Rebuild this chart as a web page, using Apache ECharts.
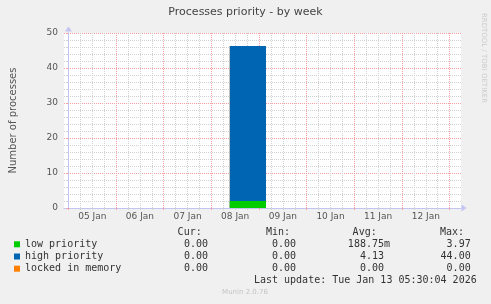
<!DOCTYPE html>
<html>
<head>
<meta charset="utf-8">
<script src="https://cdn.jsdelivr.net/npm/echarts@6/dist/echarts.min.js"></script>
<style>
html,body{margin:0;padding:0;background:#f0f0f0;}
#chart{width:491px;height:304px;}
</style>
</head>
<body>
<div id="chart"></div>
<script>
// ---- data (x = hours since 05 Jan 00:00) ----
const xMin = -2.25;
const xMax = 197.75;
const sampleHours = [-2.25, 81.25, 99.5, 197.75];
const lowPriority = [0, 2.0, 0, 0];
const highPriority = [0, 44.3, 0, 0];
const lockedInMemory = [0, 0, 0, 0];
const dayLabels = ['05 Jan','06 Jan','07 Jan','08 Jan','09 Jan','10 Jan','11 Jan','12 Jan'];
const seriesNames = ['low priority','high priority','locked in memory'];
const seriesColors = ['#00cc00','#0066b3','#ff8000'];
const curVals = ['0.00 ','0.00 ','0.00 '];
const minVals = ['0.00 ','0.00 ','0.00 '];
const avgVals = ['188.75m','4.13 ','0.00 '];
const maxVals = ['3.97 ','44.00 ','0.00 '];
const lastUpdate = 'Last update: Tue Jan 13 05:30:04 2026';

const midnights = [], noons = [], sixHours = [];
for (let h = 0; h <= xMax; h += 6) sixHours.push(h);
for (let h = 0; h <= xMax; h += 24) midnights.push(h);
for (let i = 0; i < dayLabels.length; i++) noons.push(12 + 24 * i);

// stacked tops (AREA + STACK as in rrdtool)
const rawSeries = [lowPriority, highPriority, lockedInMemory];
const stackTops = [];
rawSeries.forEach((vals, si) => {
  stackTops.push(vals.map((v, i) => v + (si > 0 ? stackTops[si-1][i] : 0)));
});
function pairs(vals){ return sampleHours.map((h,i)=>[h, vals[i]]); }

const chart = echarts.init(document.getElementById('chart'), null, {renderer:'canvas'});
const mono = 'DejaVu Sans Mono';
const sans = 'DejaVu Sans';
const red = '#f2a0a0';
const gray = '#d2d2d2';
const axisCol = '#c4c4f2';

const graphics = [];
const colX = [214, 302, 390, 476.7];
const hdr = [['Cur:',201.7],['Min:',290],['Avg:',376.7],['Max:',464]];
const txt = (t,x,y,align,font,fill,extra)=>Object.assign({type:'text',x:x,y:y,style:{text:t,textAlign:align,textVerticalAlign:'middle',font:font,fill:fill}},extra||{});
hdr.forEach(([t,x])=>graphics.push(txt(t,x,232.7,'right','10px "'+mono+'"','#333')));
const rowsY = [244.3, 256.7, 268.7];
[curVals,minVals,avgVals,maxVals].forEach((arr,ci)=>{
  arr.forEach((t,ri)=>graphics.push(txt(t,colX[ci],rowsY[ri],'right','10px "'+mono+'"','#333')));
});
graphics.push(txt(lastUpdate,476.7,280.3,'right','10px "'+mono+'"','#333'));
graphics.push(txt('Munin 2.0.76',245,291.7,'center','7px "'+sans+'"','#c4c4c4'));
graphics.push(txt('RRDTOOL / TOBI OETIKER',484,58,'center','7px "'+sans+'"','#cccccc',{rotation:-Math.PI/2}));

const option = {
  backgroundColor:'#f0f0f0',
  animation:false,
  title:{text:'Processes priority - by week',left:'center',top:2,textStyle:{fontFamily:sans,fontSize:11,fontWeight:'normal',color:'#444'}},
  grid:{left:61,right:30,top:33,bottom:96,show:true,backgroundColor:'#ffffff',borderWidth:0,containLabel:false},
  legend:{orient:'vertical',left:14,top:238.2,padding:0,itemGap:0,itemWidth:6,itemHeight:6,icon:'rect',
    data:seriesNames,
    textStyle:{fontFamily:mono,fontSize:10,color:'#333',lineHeight:12.2}},
  xAxis:[
    {type:'value',min:xMin,max:xMax,position:'bottom',
     axisLine:{show:false},axisLabel:{show:false},
     axisTick:{show:true,length:2,customValues:sixHours,lineStyle:{color:gray}},
     splitLine:{show:true,lineStyle:{color:gray,type:[1,1]}}},
    {type:'value',min:xMin,max:xMax,position:'bottom',
     axisLine:{show:true,onZero:false,lineStyle:{color:axisCol},symbol:['none','triangle'],symbolSize:[7,5],symbolOffset:[0,3]},
     axisTick:{show:true,length:2,customValues:midnights,lineStyle:{color:red}},
     axisLabel:{customValues:noons,formatter:v=>dayLabels[Math.round((v-12)/24)],fontFamily:sans,fontSize:9,color:'#555',margin:4},
     splitLine:{show:true,lineStyle:{color:red,type:[1,1]}}}
  ],
  yAxis:{type:'value',min:0,max:50,interval:10,
    axisLine:{show:true,lineStyle:{color:axisCol},symbol:['none','triangle'],symbolSize:[7,5],symbolOffset:[0,4]},
    axisTick:{show:true,length:2,lineStyle:{color:red}},
    minorTick:{show:true,splitNumber:5,length:2,lineStyle:{color:gray}},
    splitLine:{show:true,lineStyle:{color:red,type:[1,1]}},
    minorSplitLine:{show:true,lineStyle:{color:gray,type:[1,1]}},
    axisLabel:{fontFamily:sans,fontSize:9,color:'#555',margin:6},
    name:'Number of processes',nameLocation:'middle',nameGap:46,
    nameTextStyle:{fontFamily:sans,fontSize:10,color:'#555'}},
  series:stackTops.map((vals,i)=>({
    name:seriesNames[i],type:'line',xAxisIndex:1,step:'end',
    data:pairs(vals),showSymbol:false,symbol:'none',
    lineStyle:{width:0,color:seriesColors[i]},
    itemStyle:{color:seriesColors[i]},
    areaStyle:{color:seriesColors[i],opacity:1,origin:'start'},
    z:10 - i
  })),
  graphic:graphics
};
chart.setOption(option);
</script>
</body>
</html>
